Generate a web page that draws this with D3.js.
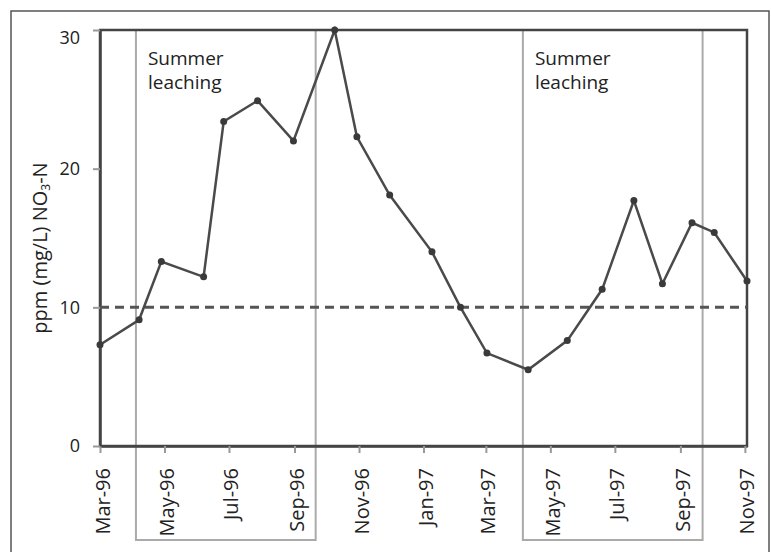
<!DOCTYPE html>
<html>
<head>
<meta charset="utf-8">
<script src="https://cdn.jsdelivr.net/npm/d3@7"></script>
<style>
    body { margin: 0; background: #fff; overflow: hidden; }
    svg { display: block; font-family: "Open Sans", sans-serif; }
</style>
</head>
<body>
<div id="chart"></div>
<script>
// Nitrate samples (ppm NO3-N)
const sampleDates = [
    '1996-03-01', '1996-04-07', '1996-04-28', '1996-06-07', '1996-06-26',
    '1996-07-28', '1996-08-31', '1996-10-09', '1996-10-30', '1996-11-30',
    '1997-01-09', '1997-02-05', '1997-03-02', '1997-04-10', '1997-05-17',
    '1997-06-19', '1997-07-19', '1997-08-15', '1997-09-12', '1997-10-03',
    '1997-11-03'
];
const nitrate = [
    7.3, 9.1, 13.3, 12.2, 23.4,
    24.9, 22.0, 30.0, 22.3, 18.1,
    14.0, 10.0, 6.7, 5.5, 7.6,
    11.3, 17.7, 11.7, 16.1, 15.4,
    11.9
];

// Summer leaching periods
const summerStart = ['1996-04-04', '1997-04-05'];
const summerEnd = ['1996-09-21', '1997-09-22'];
const summerLabel = ['Summer', 'leaching'];

// Drinking water limit
const limitValue = 10;

// Axis ticks
const xTickLabels = ['Mar-96', 'May-96', 'Jul-96', 'Sep-96', 'Nov-96', 'Jan-97',
    'Mar-97', 'May-97', 'Jul-97', 'Sep-97', 'Nov-97'];
const yTicks = [0, 10, 20, 30];
const xDomain = ['1996-03-01', '1997-11-03'];
const yDomain = [0, 30];

const width = 771;
const height = 552;
const margin = { top: 30, right: 24, bottom: 106, left: 100 };
const innerWidth = width - margin.left - margin.right;
const innerHeight = height - margin.top - margin.bottom;
const font = '"Open Sans", sans-serif';

const parseDay = d3.timeParse('%Y-%m-%d');
const parseTick = d3.timeParse('%b-%y');

const data = sampleDates.map((d, i) => ({ date: parseDay(d), value: nitrate[i] }));
const summers = summerStart.map((d, i) => ({ start: parseDay(d), end: parseDay(summerEnd[i]) }));

const svg = d3.select('#chart')
    .append('svg')
    .attr('width', width)
    .attr('height', height);

// outer figure border (bottom edge is off the page)
svg.append('path')
    .attr('d', `M11,${height} V11 H769 V${height}`)
    .attr('fill', 'none')
    .attr('stroke', '#555')
    .attr('stroke-width', 1.5);

const g = svg.append('g')
    .attr('transform', `translate(${margin.left},${margin.top})`);

// Scales
const xScale = d3.scaleTime()
    .domain(xDomain.map(parseDay))
    .range([0, innerWidth]);

const yScale = d3.scaleLinear()
    .domain(yDomain)
    .range([innerHeight, 0]);

// Summer leaching boxes (run down past the axis, around the tick labels)
g.selectAll('.summer')
    .data(summers)
    .enter()
    .append('rect')
    .attr('class', 'summer')
    .attr('x', d => xScale(d.start))
    .attr('y', yScale(yDomain[1]))
    .attr('width', d => xScale(d.end) - xScale(d.start))
    .attr('height', 510)
    .attr('fill', 'none')
    .attr('stroke', '#aaa')
    .attr('stroke-width', 2);

summers.forEach(s => {
    const t = g.append('text')
        .attr('x', xScale(s.start) + 12)
        .attr('y', 35)
        .attr('font-family', font)
        .attr('font-size', 19)
        .attr('fill', '#222');
    summerLabel.forEach((line, i) => {
        t.append('tspan')
            .attr('x', xScale(s.start) + 12)
            .attr('dy', i === 0 ? 0 : 23.5)
            .text(line);
    });
});

// plot frame (top and right edges)
g.append('rect')
    .attr('width', innerWidth)
    .attr('height', innerHeight)
    .attr('fill', 'none')
    .attr('stroke', '#444')
    .attr('stroke-width', 2.5);

// Axes
const xAxis = d3.axisBottom(xScale)
    .tickValues(xTickLabels.map(parseTick))
    .tickFormat(d3.timeFormat('%b-%y'))
    .tickSizeInner(7)
    .tickSizeOuter(0);

const yAxis = d3.axisLeft(yScale)
    .tickValues(yTicks)
    .tickSizeInner(7)
    .tickSizeOuter(0)
    .tickPadding(13);

const gx = g.append('g')
    .attr('class', 'x-axis')
    .attr('transform', `translate(0,${innerHeight})`)
    .call(xAxis)
    .attr('font-family', font)
    .attr('font-size', 20);

gx.selectAll('text')
    .attr('transform', 'translate(9,22) rotate(-90)')
    .attr('x', 0)
    .attr('y', 0)
    .attr('dy', 0)
    .attr('text-anchor', 'end')
    .attr('fill', '#222');

const gy = g.append('g')
    .attr('class', 'y-axis')
    .call(yAxis)
    .attr('font-family', font)
    .attr('font-size', 18);

gy.selectAll('text')
    .attr('fill', '#222');

// top label sits a bit below its tick, like the original
gy.selectAll('text')
    .filter(d => d === yDomain[1])
    .attr('dy', '0.75em');

[gx, gy].forEach(ax => {
    ax.select('.domain').attr('stroke', '#444').attr('stroke-width', 2.5);
    ax.selectAll('.tick line').attr('stroke', '#999').attr('stroke-width', 2);
});

// Y axis label
const yLabel = svg.append('text')
    .attr('transform', 'translate(47,248) rotate(-90)')
    .attr('text-anchor', 'middle')
    .attr('font-family', font)
    .attr('font-size', 20)
    .attr('fill', '#222');
yLabel.append('tspan').text('ppm (mg/L) NO');
yLabel.append('tspan').attr('font-size', 12).attr('dy', 3).text('3');
yLabel.append('tspan').attr('dy', -3).text('-N');

// Limit line
g.append('line')
    .attr('x1', 0)
    .attr('x2', innerWidth)
    .attr('y1', yScale(limitValue))
    .attr('y2', yScale(limitValue))
    .attr('stroke', '#555')
    .attr('stroke-width', 3)
    .attr('stroke-dasharray', '9,6');

// Line
const line = d3.line()
    .x(d => xScale(d.date))
    .y(d => yScale(d.value));

g.append('path')
    .datum(data)
    .attr('fill', 'none')
    .attr('stroke', '#4a4a4a')
    .attr('stroke-width', 2.5)
    .attr('d', line);

// Points
g.selectAll('.point')
    .data(data)
    .enter()
    .append('circle')
    .attr('class', 'point')
    .attr('cx', d => xScale(d.date))
    .attr('cy', d => yScale(d.value))
    .attr('r', 3.5)
    .attr('fill', '#3a3a3a');
</script>
</body>
</html>
